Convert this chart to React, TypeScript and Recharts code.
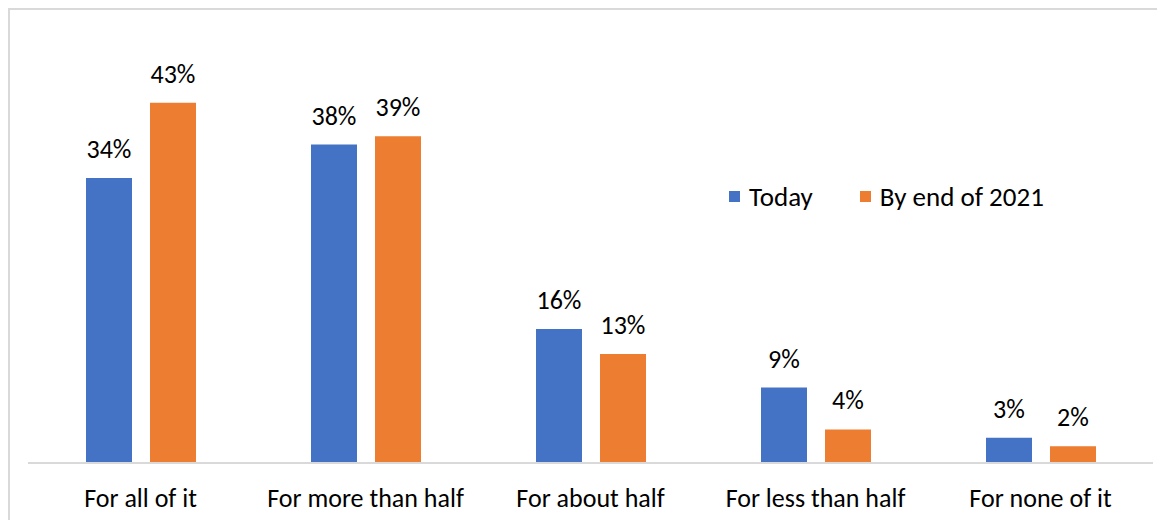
import React from "react";
import { BarChart, Bar, XAxis, YAxis, Legend, LabelList } from "recharts";

const categories = ["For all of it", "For more than half", "For about half", "For less than half", "For none of it"];
const today = [34, 38, 16, 9, 3];
const endOf2021 = [43, 39, 13, 4, 2];

const seriesInfo = [
	{ key: "today", name: "Today", color: "#4472C4" },
	{ key: "end2021", name: "By end of 2021", color: "#ED7D31" },
];

const data = categories.map((name, i) => ({ name, today: today[i], end2021: endOf2021[i] }));

const FONT = "Calibri, Carlito, 'Noto Sans', sans-serif";

// absolutely positioned so the legend reserves no space in the plot layout
const LegendBox = () => (
	<div
		style={{
			position: "absolute",
			top: 0,
			left: 0,
			display: "flex",
			alignItems: "center",
			fontFamily: FONT,
			fontSize: 27,
			color: "#000",
			whiteSpace: "nowrap",
		}}
	>
		{seriesInfo.map((s) => (
			<div key={s.key} style={{ display: "flex", alignItems: "center", marginRight: 47 }}>
				<span style={{ width: 11, height: 11, background: s.color, display: "inline-block", marginRight: 9 }} />
				<span>{s.name}</span>
			</div>
		))}
	</div>
);

export default function App() {
	return (
		<div style={{ width: 1170, height: 520, borderTop: "2px solid #d9d9d9", borderLeft: "2px solid #d9d9d9", background: "#fff" }}>
			<BarChart
				width={1160}
				height={520}
				data={data}
				margin={{ top: 34, right: 17, left: 18, bottom: 27 }}
				barCategoryGap={57}
				barGap={18}
			>
				<XAxis
					dataKey="name"
					height={40}
					tickLine={false}
					axisLine={{ stroke: "#d9d9d9", strokeWidth: 2 }}
					tickMargin={20}
					tick={{ fill: "#000", fontSize: 26, fontFamily: FONT }}
					interval={0}
				/>
				<YAxis hide domain={[0, 50]} />
				<Legend
					content={<LegendBox />}
					wrapperStyle={{ position: "absolute", top: 170, left: 719, width: 0, height: 0 }}
				/>
				{seriesInfo.map((s) => (
					<Bar key={s.key} dataKey={s.key} name={s.name} fill={s.color} barSize={46} isAnimationActive={false}>
						<LabelList
							dataKey={s.key}
							position="top"
							offset={20}
							formatter={(v: number) => `${v}%`}
							style={{ fill: "#000", fontSize: 26, fontFamily: FONT }}
						/>
					</Bar>
				))}
			</BarChart>
		</div>
	);
}
